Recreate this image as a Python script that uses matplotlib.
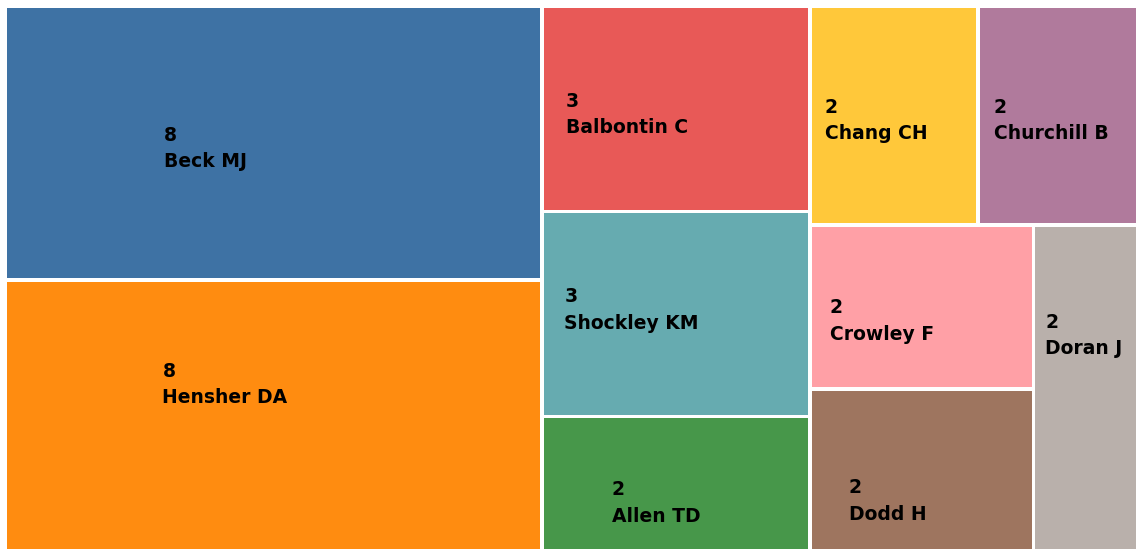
import matplotlib.pyplot as plt
from matplotlib.patches import Rectangle

names = ["Beck MJ", "Hensher DA", "Balbontin C", "Shockley KM", "Allen TD",
         "Chang CH", "Churchill B", "Crowley F", "Dodd H", "Doran J"]
counts = [8, 8, 3, 3, 2, 2, 2, 2, 2, 2]

colors = ["#3e72a4", "#ff8c10", "#e85957", "#66abb0", "#47974a",
          "#ffc83a", "#b07a9c", "#ffa0a6", "#9e755f", "#b9b0ab"]

# where the label sits in its tile: left edge and name baseline, as fractions
label_fx = [0.295, 0.293, 0.090, 0.084, 0.261, 0.088, 0.094, 0.087, 0.172, 0.101]
label_fy = [0.588, 0.451, 0.618, 0.573, 0.769, 0.607, 0.608, 0.700, 0.797, 0.393]

PHI = (1 + 5 ** 0.5) / 2


def squarify(values, x0, y0, x1, y1, ratio=PHI):
    # same row rule as d3.treemapSquarify
    rects = []
    total = float(sum(values))
    n = len(values)
    i0 = 0
    while i0 < n:
        dx, dy = x1 - x0, y1 - y0
        s = values[i0]
        i1 = i0 + 1
        vmin = vmax = s
        alpha = max(dy / dx, dx / dy) / (total * ratio)
        beta = s * s * alpha
        best = max(vmax / beta, beta / vmin)
        while i1 < n:
            v = values[i1]
            s2 = s + v
            vmin2, vmax2 = min(vmin, v), max(vmax, v)
            beta = s2 * s2 * alpha
            r = max(vmax2 / beta, beta / vmin2)
            if r > best:
                break
            s, vmin, vmax, best = s2, vmin2, vmax2, r
            i1 += 1
        row = values[i0:i1]
        if dx < dy:
            h = dy * s / total
            x = x0
            for v in row:
                w = dx * v / s
                rects.append((x, y0, w, h))
                x += w
            y0 += h
        else:
            w = dx * s / total
            y = y0
            for v in row:
                h = dy * v / s
                rects.append((x0, y, w, h))
                y += h
            x0 += w
        total -= s
        i0 = i1
    return rects


W, H = 1136, 549
fig = plt.figure(figsize=(W / 100, H / 100), dpi=100)
ax = fig.add_axes([0, 0, 1, 1])
ax.set_xlim(0, W)
ax.set_ylim(H, 0)
ax.axis("off")

pad = 1.75
tiles = squarify(counts, 5.25, 6.25, 1145.5, 553.25)
for (x, y, w, h), name, c, col, fx, fy in zip(tiles, names, counts, colors, label_fx, label_fy):
    ax.add_patch(Rectangle((x + pad, y + pad), w - 2 * pad, h - 2 * pad,
                           facecolor=col, edgecolor="none"))
    tx = x + fx * w
    ty = y + fy * h
    ax.text(tx, ty, name, ha="left", va="baseline", fontsize=13.5,
            fontweight="bold", family="DejaVu Sans", color="black")
    ax.text(tx, ty - 26.5, str(c), ha="left", va="baseline", fontsize=13.5,
            fontweight="bold", family="DejaVu Sans", color="black")

fig.savefig("out.png", dpi=100)
